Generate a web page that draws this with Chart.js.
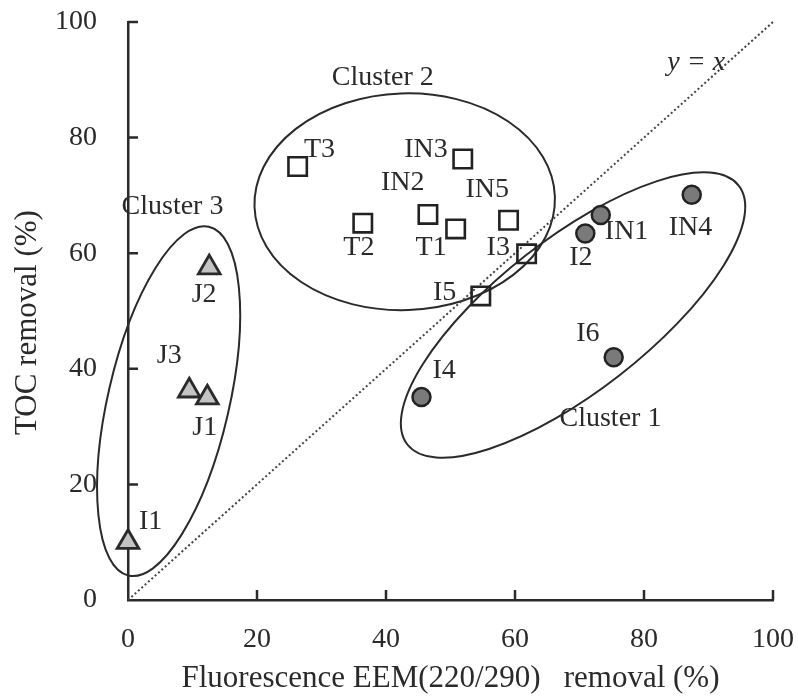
<!DOCTYPE html>
<html>
<head>
<meta charset="utf-8">
<script src="https://cdn.jsdelivr.net/npm/chart.js@4.4.1/dist/chart.umd.min.js"></script>
<style>
  html, body { margin: 0; padding: 0; background: #ffffff; }
  #wrap { width: 798px; height: 700px; }
</style>
</head>
<body>
<div id="wrap"><canvas id="c" width="798" height="700"></canvas></div>
<script>
// ---- Data ----
// Cluster 3 (triangles)
const cluster3Names = ['I1', 'J3', 'J1', 'J2'];
const cluster3X = [0, 9.5, 12.3, 12.6];
const cluster3Y = [10.0, 36.2, 35.0, 57.5];

// Cluster 2 (open squares)
const cluster2Names = ['T3', 'T2', 'IN2', 'T1', 'IN3', 'IN5', 'I3', 'I5'];
const cluster2X = [26.3, 36.4, 46.5, 50.8, 51.9, 59.0, 61.8, 54.7];
const cluster2Y = [75.0, 65.2, 66.7, 64.2, 76.3, 65.7, 59.9, 52.6];

// Cluster 1 (filled circles)
const cluster1Names = ['I2', 'IN1', 'IN4', 'I6', 'I4'];
const cluster1X = [70.9, 73.3, 87.4, 75.3, 45.5];
const cluster1Y = [63.4, 66.6, 70.1, 42.0, 35.1];

// y = x reference line
const identityX = [0, 100];
const identityY = [0, 100];

// Axis ticks
const axisTicks = [0, 20, 40, 60, 80, 100];

// Text annotations: [text, x, y] in data units (text centre)
const pointLabels = [
  ['I1', 3.5, 13.6], ['J3', 6.4, 42.3], ['J1', 11.9, 29.8], ['J2', 11.8, 52.8],
  ['T3', 29.7, 77.9], ['T2', 35.8, 60.9], ['IN2', 42.6, 72.2], ['T1', 47.0, 60.9],
  ['IN3', 46.2, 78.0], ['IN5', 55.7, 71.0], ['I3', 57.4, 60.9], ['I5', 49.1, 53.1],
  ['I2', 70.2, 59.3], ['IN1', 77.3, 63.8], ['IN4', 87.2, 64.5], ['I6', 71.3, 46.0],
  ['I4', 49.0, 39.7]
];
const clusterLabels = [
  ['Cluster 1', 74.8, 31.3], ['Cluster 2', 39.5, 90.3], ['Cluster 3', 6.9, 68.1]
];
const lineLabel = ['y = x', 88.1, 93.0];

// Cluster ellipses: centre (data units), semi-axes (x-axis units), tilt of first axis (deg, above horizontal)
const ellipseCX = [69.0, 42.9, 6.3];
const ellipseCY = [49.3, 68.9, 34.4];
const ellipseA = [32.6, 23.3, 27.75];
const ellipseB = [11.8, 16.8, 9.4];
const ellipseTilt = [38, 2, 77];

// ---- Build chart ----
const toPts = (xs, ys) => xs.map((x, i) => ({ x: x, y: ys[i] }));
const FONT = "'Liberation Serif', 'Times New Roman', serif";
const INK = '#2a2a2a';

const ellipsePlugin = {
  id: 'ellipses',
  beforeDatasetsDraw(chart) {
    const { ctx, scales: { x, y } } = chart;
    const ppu = Math.abs(x.getPixelForValue(1) - x.getPixelForValue(0));
    ctx.save();
    ctx.strokeStyle = INK;
    ctx.lineWidth = 2;
    for (let i = 0; i < ellipseCX.length; i++) {
      const cx = x.getPixelForValue(ellipseCX[i]);
      const cy = y.getPixelForValue(ellipseCY[i]);
      ctx.beginPath();
      ctx.ellipse(cx, cy, ellipseA[i] * ppu, ellipseB[i] * ppu, -ellipseTilt[i] * Math.PI / 180, 0, Math.PI * 2);
      ctx.stroke();
    }
    ctx.restore();
  }
};

const annotatePlugin = {
  id: 'annotate',
  afterDatasetsDraw(chart) {
    const { ctx, scales: { x, y }, chartArea } = chart;
    ctx.save();
    // inward tick marks
    ctx.strokeStyle = INK;
    ctx.lineWidth = 2.5;
    ctx.beginPath();
    axisTicks.forEach(v => {
      if (v === 0) return;
      const px = x.getPixelForValue(v);
      ctx.moveTo(px, chartArea.bottom);
      ctx.lineTo(px, chartArea.bottom - 10);
      const py = y.getPixelForValue(v);
      ctx.moveTo(chartArea.left, py);
      ctx.lineTo(chartArea.left + 10, py);
    });
    ctx.stroke();
    // labels
    ctx.fillStyle = INK;
    ctx.textAlign = 'center';
    ctx.textBaseline = 'middle';
    ctx.font = '28px ' + FONT;
    pointLabels.concat(clusterLabels).forEach(([t, vx, vy]) => {
      ctx.fillText(t, x.getPixelForValue(vx), y.getPixelForValue(vy));
    });
    ctx.font = 'italic 28px ' + FONT;
    ctx.fillText(lineLabel[0], x.getPixelForValue(lineLabel[1]), y.getPixelForValue(lineLabel[2]));
    ctx.restore();
  }
};

new Chart(document.getElementById('c'), {
  type: 'scatter',
  data: {
    datasets: [
      {
        label: 'Cluster 1', data: toPts(cluster1X, cluster1Y),
        pointStyle: 'circle', pointRadius: 9, pointBorderWidth: 2.5,
        backgroundColor: '#7a7a7a', borderColor: '#222222', clip: false
      },
      {
        label: 'Cluster 2', data: toPts(cluster2X, cluster2Y),
        pointStyle: 'rect', pointRadius: 13, pointBorderWidth: 2.6,
        backgroundColor: 'rgba(255,255,255,0)', borderColor: '#222222', clip: false
      },
      {
        label: 'Cluster 3', data: toPts(cluster3X, cluster3Y),
        pointStyle: 'triangle', pointRadius: 12.5, pointBorderWidth: 2.8,
        backgroundColor: '#c4c4c4', borderColor: '#2a2a2a', clip: false
      },
      {
        label: 'y = x', type: 'line', data: toPts(identityX, identityY),
        borderColor: '#444444', borderWidth: 2, borderDash: [2, 2.5],
        pointRadius: 0, fill: false, clip: false
      }
    ]
  },
  options: {
    responsive: false,
    maintainAspectRatio: false,
    animation: false,
    devicePixelRatio: 1,
    layout: { padding: { top: 22, right: 25, left: 0, bottom: 0 } },
    plugins: { legend: { display: false }, tooltip: { enabled: false } },
    scales: {
      x: {
        type: 'linear', min: 0, max: 100,
        afterFit: s => { s.height = 100; s.paddingLeft = 0; s.paddingRight = 0; },
        grid: { display: false, drawTicks: false },
        border: { display: true, color: INK, width: 2.5 },
        ticks: { stepSize: 20, color: INK, padding: 23, font: { family: FONT, size: 28 } },
        title: {
          display: true, text: 'Fluorescence EEM(220/290)   removal (%)', color: INK,
          font: { family: FONT, size: 31 }, padding: { top: 0, bottom: 3 }
        }
      },
      y: {
        type: 'linear', min: 0, max: 100,
        afterFit: s => { s.width = 128; s.paddingTop = 0; s.paddingBottom = 0; },
        grid: { display: false, drawTicks: false },
        border: { display: true, color: INK, width: 2.5 },
        ticks: { stepSize: 20, color: INK, padding: 31, font: { family: FONT, size: 28 } },
        title: {
          display: true, text: 'TOC removal (%)   ', color: INK,
          font: { family: FONT, size: 31 }, padding: { top: 9, bottom: 0 }
        }
      }
    }
  },
  plugins: [ellipsePlugin, annotatePlugin]
});
</script>
</body>
</html>
